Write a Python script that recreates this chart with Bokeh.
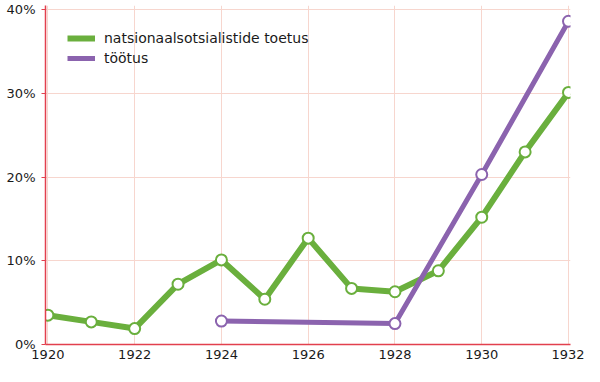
from bokeh.plotting import figure
from bokeh.models import ColumnDataSource, Legend, LegendItem, FixedTicker, PrintfTickFormatter, Range1d
from bokeh.embed import file_html
from bokeh.resources import INLINE

years_nazi = [1920, 1921, 1922, 1923, 1924, 1925, 1926, 1927, 1928, 1929, 1930, 1931, 1932]
support = [3.5, 2.7, 1.9, 7.2, 10.1, 5.4, 12.7, 6.7, 6.3, 8.8, 15.2, 23.0, 30.1]
years_unemp = [1924, 1928, 1930, 1932]
unemployment = [2.8, 2.5, 20.3, 38.6]
x_ticks = [1920, 1922, 1924, 1926, 1928, 1930, 1932]
y_ticks = [0, 10, 20, 30, 40]
label_support = "natsionaalsotsialistide toetus"
label_unemp = "töötus"

GREEN = "#6aaf3d"
PURPLE = "#8b63ae"
RED = "#e2404e"
GRID = "#f7d6ce"
FONT = "DejaVu Sans"

W, H = 584, 366
BL, BR, BT, BB = 45, 14, 5, 22
frame_h = H - BT - BB

p = figure(width=W, height=H, output_backend="svg", toolbar_location=None,
           x_range=Range1d(1919.945, 1932.046), y_range=Range1d(0, 40.48),
           min_border_left=BL, min_border_right=BR, min_border_top=BT, min_border_bottom=BB)
p.outline_line_color = None
p.background_fill_color = "white"

src1 = ColumnDataSource(dict(x=years_nazi, y=support))
src2 = ColumnDataSource(dict(x=years_unemp, y=unemployment))

l1 = p.line("x", "y", source=src1, line_color=GREEN, line_width=6, line_join="round")
c1 = p.scatter("x", "y", source=src1, size=11, fill_color="white", line_color=GREEN, line_width=2)
l2 = p.line("x", "y", source=src2, line_color=PURPLE, line_width=5, line_join="round")
c2 = p.scatter("x", "y", source=src2, size=11, fill_color="white", line_color=PURPLE, line_width=2)

for ax in (p.xaxis[0], p.yaxis[0]):
    ax.axis_line_color = RED
    ax.axis_line_width = 1.5
    ax.major_label_text_font = FONT
    ax.major_label_text_font_size = "13px"
    ax.major_label_text_color = "#1a1a1a"
    ax.minor_tick_line_color = None

p.xaxis.ticker = FixedTicker(ticks=x_ticks)
p.xaxis.major_tick_line_color = None
p.xaxis.major_tick_out = 0
p.xaxis.major_tick_in = 0
p.xaxis.major_label_standoff = 5

p.yaxis.ticker = FixedTicker(ticks=y_ticks)
p.yaxis.formatter = PrintfTickFormatter(format="%d%%")
p.yaxis.major_tick_line_color = RED
p.yaxis.major_tick_out = 4
p.yaxis.major_tick_in = 0
p.yaxis.major_label_standoff = 6

p.xgrid.ticker = FixedTicker(ticks=x_ticks)
p.ygrid.ticker = FixedTicker(ticks=y_ticks)
p.xgrid.grid_line_color = GRID
p.ygrid.grid_line_color = GRID
p.xgrid.grid_line_width = 1
p.ygrid.grid_line_width = 1

legend = Legend(items=[LegendItem(label=label_support, renderers=[l1]),
                       LegendItem(label=label_unemp, renderers=[l2])],
                location=(22, frame_h - 23 - 40), border_line_color=None,
                background_fill_alpha=0, padding=0, margin=0, spacing=0,
                glyph_width=28, glyph_height=20, label_height=20,
                label_standoff=9, label_text_font=FONT, label_text_font_size="14px",
                label_text_color="#1a1a1a")
p.add_layout(legend)

open("out.html", "w").write(file_html(p, INLINE))
